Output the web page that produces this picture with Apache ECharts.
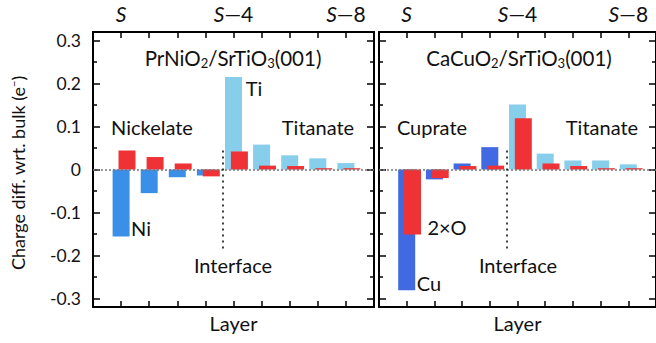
<!DOCTYPE html>
<html>
<head>
<meta charset="utf-8">
<script src="https://cdn.jsdelivr.net/npm/echarts@6/dist/echarts.min.js"></script>
<style>html,body{margin:0;padding:0;background:#fff}#c{width:656px;height:343px}</style>
</head>
<body>
<div id="c"></div>
<script>
// ---- data ----
const layers = [0, 1, 2, 3, 4, 5, 6, 7, 8];
const topLabelLayers = [0, 4, 8];
const topLabelTexts = ['{it|S}', '{it|S}{n|—4}', '{it|S}{n|—8}'];
const yTicks = [-0.3, -0.2, -0.1, 0, 0.1, 0.2, 0.3];
const yMinorTicks = [-0.25, -0.15, -0.05, 0.05, 0.15, 0.25];

// PrNiO2/SrTiO3: B-site (Ni for layers 0-3, Ti for 4-8) and O
const nickelateNi = [-0.156, -0.055, -0.018, -0.014];
const nickelateTi = [0.215, 0.058, 0.033, 0.026, 0.015];
const nickelateO = [0.044, 0.029, 0.014, -0.016, 0.042, 0.009, 0.008, 0.003, 0.003];

// CaCuO2/SrTiO3: B-site (Cu for layers 0-3, Ti for 4-8) and 2xO
const cuprateCu = [-0.281, -0.023, 0.014, 0.052];
const cuprateTi = [0.151, 0.037, 0.021, 0.021, 0.012];
const cuprateO = [-0.151, -0.020, 0.008, 0.009, 0.119, 0.014, 0.008, 0.003, 0.003];

const interfaceLayer = 3.6;

// ---- styling ----
const FONT = 'Lato';
const TXT = '#111';
const RED = '#ee3236';
const NI_BLUE = '#3a8fe8';
const CU_BLUE = '#4169e1';
const TI_BLUE = '#87ceeb';
const OFFSET = 0.21;

const chart = echarts.init(document.getElementById('c'), null, {renderer: 'svg'});

function pairs(xs, ys, dx) { return ys.map((v, i) => [xs[i] + (dx || 0), v]); }

const grids = [
  {left: 93, top: 32, width: 281, height: 275},
  {left: 379, top: 32, width: 280, height: 275}
];

const xAxes = [];
const yAxes = [];
grids.forEach((g, gi) => {
  const base = {
    type: 'value', gridIndex: gi, min: -1, max: 9,
    axisLine: {show: true, onZero: false, lineStyle: {color: '#000', width: 2}},
    axisTick: {show: true, inside: true, length: 6, customValues: layers, lineStyle: {color: '#000', width: 1.5}},
    splitLine: {show: false}
  };
  xAxes.push(Object.assign({}, base, {
    position: 'bottom',
    axisLabel: {show: false},
    name: 'Layer', nameLocation: 'middle', nameGap: 6,
    nameTextStyle: {fontFamily: FONT, fontSize: 20, color: TXT, verticalAlign: 'top'}
  }));
  xAxes.push(Object.assign({}, base, {
    position: 'top',
    axisLabel: {
      show: true, margin: 8, fontFamily: FONT, fontSize: 21, color: TXT,
      customValues: topLabelLayers,
      formatter: v => { const i = topLabelLayers.indexOf(Math.round(v)); return i >= 0 ? topLabelTexts[i] : ''; },
      rich: {
        it: {fontStyle: 'italic', fontFamily: FONT, fontSize: 21, color: TXT},
        n: {fontFamily: FONT, fontSize: 21, color: TXT}
      }
    }
  }));
  const yb = {
    type: 'value', gridIndex: gi, min: -0.32, max: 0.32,
    splitLine: {show: false}
  };
  ['left', 'right'].forEach(side => {
    yAxes.push(Object.assign({}, yb, {
      position: side,
      axisLine: {show: true, onZero: false, lineStyle: {color: '#000', width: 2}},
      axisTick: {show: true, inside: true, length: 7, customValues: yTicks, lineStyle: {color: '#000', width: 1.5}},
      axisLabel: (gi === 0 && side === 'left') ? {
        show: true, margin: 12, fontFamily: FONT, fontSize: 17.5, color: TXT,
        customValues: yTicks,
        formatter: v => Math.abs(v) < 1e-9 ? '0' : v.toFixed(1)
      } : {show: false}
    }));
    yAxes.push(Object.assign({}, yb, {
      position: side,
      axisLine: {show: false, onZero: false},
      axisTick: {show: true, inside: true, length: 4, customValues: yMinorTicks, lineStyle: {color: '#000', width: 1.5}},
      axisLabel: {show: false}
    }));
  });
});

function markLines() {
  return {
    silent: true, symbol: 'none', label: {show: false},
    data: [
      {yAxis: 0, lineStyle: {color: '#777', type: [2, 2], width: 1.5}},
      [{coord: [interfaceLayer, 0.044], lineStyle: {color: '#000', type: [2, 4], width: 1.5}},
       {coord: [interfaceLayer, -0.184]}]
    ]
  };
}

function bar(name, data, color, gi) {
  return {
    name, type: 'bar', data, xAxisIndex: gi * 2, yAxisIndex: gi * 4,
    barWidth: 17, barGap: '-100%', itemStyle: {color}, animation: false
  };
}

const series = [
  bar('Ni', pairs(layers.slice(0, 4), nickelateNi), NI_BLUE, 0),
  bar('Ti', pairs(layers.slice(4), nickelateTi), TI_BLUE, 0),
  Object.assign(bar('O', pairs(layers, nickelateO, OFFSET), RED, 0), {markLine: markLines()}),
  bar('Cu', pairs(layers.slice(0, 4), cuprateCu), CU_BLUE, 1),
  bar('Ti ', pairs(layers.slice(4), cuprateTi), TI_BLUE, 1),
  Object.assign(bar('2×O', pairs(layers, cuprateO, OFFSET), RED, 1), {markLine: markLines()})
];

function txt(text, x, y, extra) {
  return {
    type: 'text', x, y, silent: true,
    style: Object.assign({text, fontFamily: FONT, fontSize: 20, fill: TXT, align: 'center', verticalAlign: 'middle'}, extra || {})
  };
}

const subRich = {
  sub: {fontFamily: FONT, fontSize: 13, fill: TXT, padding: [10, 0, 0, 0]},
  n: {fontFamily: FONT, fontSize: 20.5, fill: TXT}
};

const graphics = [
  txt('{n|PrNiO}{sub|2}{n|/SrTiO}{sub|3}{n|(001)}', 233, 58, {rich: subRich}),
  txt('{n|CaCuO}{sub|2}{n|/SrTiO}{sub|3}{n|(001)}', 519, 58, {rich: subRich}),
  txt('Nickelate', 152, 127),
  txt('Titanate', 318, 127),
  txt('Ti', 254, 88),
  txt('Ni', 141, 228),
  txt('Interface', 233, 265),
  txt('Cuprate', 432, 127),
  txt('Titanate', 602, 127),
  txt('2×O', 447, 227),
  txt('Cu', 429, 283),
  txt('Interface', 518, 265),
  Object.assign(txt('{n|Charge diff. wrt. bulk (e}{sup|−}{n|)}', 18, 173, {
    rich: {n: {fontFamily: FONT, fontSize: 18, fill: TXT}, sup: {fontFamily: FONT, fontSize: 11, fill: TXT, padding: [0, 0, 10, 0]}}
  }), {rotation: Math.PI / 2})
];

chart.setOption({
  animation: false,
  textStyle: {fontFamily: FONT},
  grid: grids,
  xAxis: xAxes,
  yAxis: yAxes,
  series,
  graphic: graphics
});
</script>
</body>
</html>
